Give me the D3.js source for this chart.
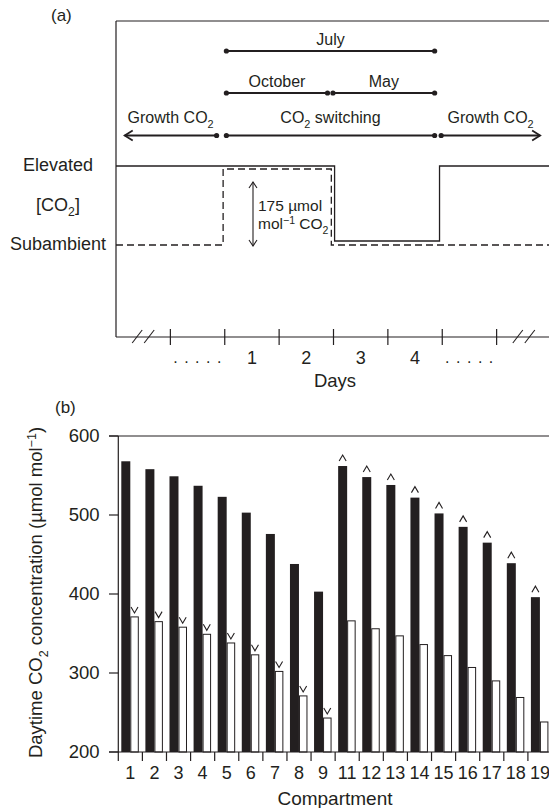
<!DOCTYPE html>
<html>
<head>
<meta charset="utf-8">
<script src="https://cdn.jsdelivr.net/npm/d3@7"></script>
<style>
  body { margin: 0; background: #fff; }
  svg { display: block; }
  text { font-family: "Liberation Sans", Arial, Helvetica, sans-serif; fill: #231f20; }
</style>
</head>
<body>
<div id="chart"></div>
<script>
// ---- panel (a): CO2 switching schedule (x in days) ----
var levels = ["Elevated", "Subambient"];
var dayTicks = [-1, 0, 1, 2, 3, 4, 5];
var dayLabels = ["1", "2", "3", "4"];
var dayBreaks = [-1.5, 5.5];
var periods = [
    {label: [["July"]], start: 0.03, end: 3.86, row: 0},
    {label: [["October"]], start: 0.03, end: 1.89, row: 1},
    {label: [["May"]], start: 1.99, end: 3.86, row: 1},
    {label: [["Growth CO"], ["2", "sub"]], start: -0.15, end: -1.84, row: 2, arrow: true},
    {label: [["CO"], ["2", "sub"], [" switching"]], start: 0.03, end: 3.86, row: 2},
    {label: [["Growth CO"], ["2", "sub"]], start: 3.98, end: 5.8, row: 2, arrow: true}
];
// step traces: level from this day onwards
var solidSteps = [
    {day: -2, level: "Elevated"}, {day: 2.02, level: "Subambient"},
    {day: 3.95, level: "Elevated"}, {day: 6, level: "Elevated"}
];
var dashedSteps = [
    {day: -2, level: "Subambient"}, {day: -0.03, level: "Elevated"},
    {day: 1.96, level: "Subambient"}, {day: 6, level: "Subambient"}
];

// ---- panel (b): daytime CO2 per compartment ----
var compartments = ["1", "2", "3", "4", "5", "6", "7", "8", "9",
    "11", "12", "13", "14", "15", "16", "17", "18", "19"];
var elevated = [568, 558, 549, 537, 523, 503, 476, 438, 403,
    562, 548, 538, 522, 502, 485, 465, 439, 396];
var subambient = [371, 365, 358, 349, 338, 323, 302, 271, 243,
    366, 356, 347, 336, 322, 307, 290, 269, 238];
var markedSub = ["1", "2", "3", "4", "5", "6", "7", "8", "9"];
var markedElev = ["11", "12", "13", "14", "15", "16", "17", "18", "19"];
var yTicks = [200, 300, 400, 500, 600];

var ink = "#231f20";
var svg = d3.select("#chart").append("svg")
    .attr("width", 549)
    .attr("height", 808);

// text with sub/superscript parts
function rich(sel, x, y, parts, size, anchor) {
    var t = sel.append("text")
        .attr("x", x).attr("y", y)
        .attr("font-size", size)
        .attr("text-anchor", anchor || "middle");
    var shift = 0;
    parts.forEach(function(p) {
        var s = p[1] === "sub" ? 0.3 : p[1] === "sup" ? -0.35 : 0;
        t.append("tspan")
            .attr("dy", (s - shift) * size)
            .attr("font-size", p[1] ? size * 0.68 : size)
            .text(p[0]);
        shift = s;
    });
    return t;
}

function line(sel, x1, y1, x2, y2, w) {
    return sel.append("line")
        .attr("x1", x1).attr("y1", y1).attr("x2", x2).attr("y2", y2)
        .attr("stroke", ink).attr("stroke-width", w || 1.2);
}

/* ================= panel (a) ================= */
var ga = svg.append("g");
var xd = d3.scaleLinear().domain([-2, 6]).range([116, 551]);
var yl = d3.scalePoint().domain(levels).range([166, 244]);
var rowY = [51, 93, 135.5];
var axisA = 337;

ga.append("text").attr("x", 51).attr("y", 21).attr("font-size", 17).text("(a)");

// frame
line(ga, xd(-2), 21, 549, 21);
line(ga, xd(-2), 21, xd(-2), axisA);
line(ga, xd(-2), axisA, 549, axisA);

// timeline bars
periods.forEach(function(p) {
    var y = rowY[p.row];
    line(ga, xd(p.start), y, xd(p.end), y, 1.8);
    ga.append("circle").attr("cx", xd(p.start)).attr("cy", y).attr("r", 2.6).attr("fill", ink);
    if (p.arrow) {
        var dir = p.end > p.start ? 1 : -1, xe = xd(p.end);
        ga.append("path")
            .attr("d", "M" + (xe - dir * 8) + "," + (y - 5) + "L" + xe + "," + y + "L" + (xe - dir * 8) + "," + (y + 5))
            .attr("fill", "none").attr("stroke", ink).attr("stroke-width", 1.8);
    } else {
        ga.append("circle").attr("cx", xd(p.end)).attr("cy", y).attr("r", 2.6).attr("fill", ink);
    }
    var off = p.row === 2 ? 12.5 : 6.5;
    rich(ga, (xd(p.start) + xd(p.end)) / 2, y - off, p.label, 16);
});

// CO2 level traces
var stepLine = function(lowOff, highOff) {
    return d3.line()
        .x(function(d) { return xd(d.day); })
        .y(function(d) { return yl(d.level) + (d.level === "Elevated" ? highOff : lowOff); })
        .curve(d3.curveStepAfter);
};
ga.append("path").datum(solidSteps)
    .attr("d", stepLine(-3, 0))
    .attr("fill", "none").attr("stroke", ink).attr("stroke-width", 1.3);
ga.append("path").datum(dashedSteps)
    .attr("d", stepLine(1, 3))
    .attr("fill", "none").attr("stroke", ink).attr("stroke-width", 1.3)
    .attr("stroke-dasharray", "7,4");

// level labels
rich(ga, 58, yl("Elevated") + 5, [["Elevated"]], 18);
rich(ga, 58, (yl("Elevated") + yl("Subambient")) / 2 + 6, [["[CO"], ["2", "sub"], ["]"]], 18);
rich(ga, 58, yl("Subambient") + 6, [["Subambient"]], 18);

// 175 umol double arrow
var ax = 253, ay1 = 182, ay2 = 246;
line(ga, ax, ay1, ax, ay2, 1.1);
ga.append("path")
    .attr("d", "M" + (ax - 4) + "," + (ay1 + 6) + "L" + ax + "," + ay1 + "L" + (ax + 4) + "," + (ay1 + 6) +
        "M" + (ax - 4) + "," + (ay2 - 6) + "L" + ax + "," + ay2 + "L" + (ax + 4) + "," + (ay2 - 6))
    .attr("fill", "none").attr("stroke", ink).attr("stroke-width", 1.1);
rich(ga, 258, 211, [["175 µmol"]], 15.5, "start");
rich(ga, 258, 229, [["mol"], ["\u22121", "sup"], [" CO"], ["2", "sub"]], 15.5, "start");

// day axis ticks, breaks and labels
dayTicks.forEach(function(d) {
    line(ga, xd(d), axisA - 8, xd(d), axisA + 8, 1.2);
});
dayBreaks.forEach(function(d) {
    [-6, 6].forEach(function(o) {
        var cx = xd(d) + o;
        line(ga, cx - 5, axisA + 6, cx + 5, axisA - 7, 1.1);
    });
});
dayLabels.forEach(function(l, i) {
    rich(ga, xd(i + 0.5), 363.5, [[l]], 18);
});
[-0.5, 4.5].forEach(function(d) {
    ga.append("text").attr("x", xd(d) + 3).attr("y", 363)
        .attr("font-size", 16).attr("text-anchor", "middle")
        .attr("letter-spacing", "6.5px").text(".....");
});
rich(ga, 335, 387, [["Days"]], 18.5);

/* ================= panel (b) ================= */
var gb = svg.append("g");
var x = d3.scaleBand().domain(compartments).range([118.3, 552]);
var y = d3.scaleLinear().domain([200, 600]).range([752, 436]);
var bw = x.bandwidth();

gb.append("text").attr("x", 55).attr("y", 413).attr("font-size", 17).text("(b)");

var bars = gb.selectAll(".cmp")
    .data(compartments)
    .enter().append("g")
    .attr("class", "cmp");

bars.append("rect")
    .attr("x", function(d) { return x(d) + 3; })
    .attr("width", 9)
    .attr("y", function(d, i) { return y(elevated[i]); })
    .attr("height", function(d, i) { return y(200) - y(elevated[i]); })
    .attr("fill", ink);

bars.append("rect")
    .attr("x", function(d) { return x(d) + 12.5; })
    .attr("width", 7.5)
    .attr("y", function(d, i) { return y(subambient[i]); })
    .attr("height", function(d, i) { return y(200) - y(subambient[i]); })
    .attr("fill", "#fff").attr("stroke", ink).attr("stroke-width", 1);

// significance chevrons
bars.filter(function(d) { return markedSub.indexOf(d) >= 0; })
    .append("path")
    .attr("d", function(d) {
        var i = compartments.indexOf(d), cx = x(d) + 16.2, t = y(subambient[i]);
        return "M" + (cx - 3.5) + "," + (t - 10) + "L" + cx + "," + (t - 4) + "L" + (cx + 3.5) + "," + (t - 10);
    })
    .attr("fill", "none").attr("stroke", ink).attr("stroke-width", 1.1);
bars.filter(function(d) { return markedElev.indexOf(d) >= 0; })
    .append("path")
    .attr("d", function(d) {
        var i = compartments.indexOf(d), cx = x(d) + 7.5, t = y(elevated[i]);
        return "M" + (cx - 3.5) + "," + (t - 5) + "L" + cx + "," + (t - 11) + "L" + (cx + 3.5) + "," + (t - 5);
    })
    .attr("fill", "none").attr("stroke", ink).attr("stroke-width", 1.1);

// axes
line(gb, 109, y(600), 549, y(600));
line(gb, 109, y(200), 549, y(200));
line(gb, 118.3, y(600), 118.3, y(200) + 9);
yTicks.forEach(function(v) {
    line(gb, 109, y(v), 118.3, y(v));
    gb.append("text").attr("x", 99.5).attr("y", y(v) + 6)
        .attr("font-size", 18.5).attr("text-anchor", "end").text(v);
});
compartments.forEach(function(c) {
    line(gb, x(c) + bw, y(200), x(c) + bw, y(200) + 9);
    gb.append("text").attr("x", x(c) + bw / 2).attr("y", 778.5)
        .attr("font-size", 18).attr("text-anchor", "middle").text(c);
});
rich(gb, 335, 805, [["Compartment"]], 19);

var yl2 = gb.append("g").attr("transform", "translate(42,592.5) rotate(-90)");
rich(yl2, 0, 0, [["Daytime CO"], ["2", "sub"], [" concentration (µmol mol"], ["\u22121", "sup"], [")"]], 18.5);
</script>
</body>
</html>
